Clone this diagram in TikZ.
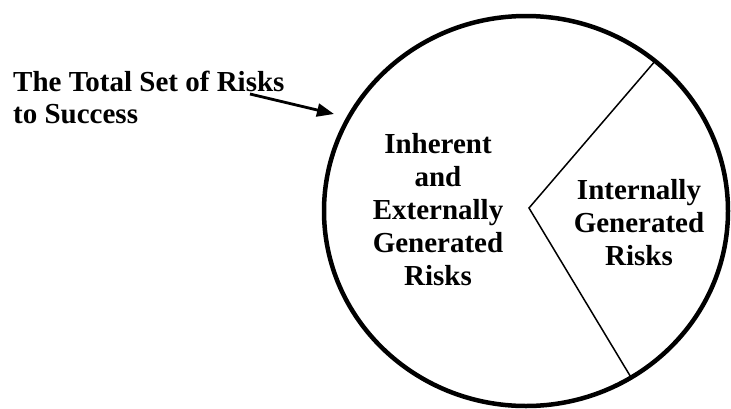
\documentclass[tikz,border=0pt]{standalone}
\usepackage{fontspec}
\setmainfont{Liberation Serif}
\usetikzlibrary{arrows.meta}

\begin{document}
\begin{tikzpicture}[
    x=1pt, y=-1pt,                          % <- 1 unit = 1 pixel of the layout
    risklbl/.style={font=\fontsize{29}{33}\selectfont\bfseries, align=center, inner sep=0pt},
    totallbl/.style={font=\fontsize{29}{31.5}\selectfont\bfseries, align=left, inner sep=0pt},
    rim/.style={line width=4.5pt},
    split/.style={line width=1.5pt, line join=miter},
    pointer/.style={line width=2.8pt, -{Triangle[length=17pt, width=13pt]}},
  ]
  \useasboundingbox (0,0) rectangle (731,408);

  % ---------- key points ----------
  \coordinate (ctr)  at (526,211);
  \coordinate (apex) at (529,208);
  \coordinate (wtop) at (656,60);
  \coordinate (wbot) at (632,379);
  \coordinate (tail) at (250,94);
  \coordinate (tip)  at (334,114);

  % ---------- wedge of internal risks (under the rim) ----------
  \draw[split] (wtop) -- (apex) -- (wbot);

  % ---------- the whole set ----------
  \draw[rim] (ctr) ellipse [x radius=202, y radius=195];

  % ---------- labels (base = last line) ----------
  \node[totallbl, anchor=base west] (total) at (13,123)
  {The Total Set of Risks\\to Success};
  \node[risklbl, anchor=base] (external) at (438,285)
  {Inherent\\and\\Externally\\Generated\\Risks};
  \node[risklbl, anchor=base] (internal) at (639,265)
  {Internally\\Generated\\Risks};

  % ---------- pointer to the set ----------
  \draw[pointer] (tail) -- (tip);

\end{tikzpicture}
\end{document}
